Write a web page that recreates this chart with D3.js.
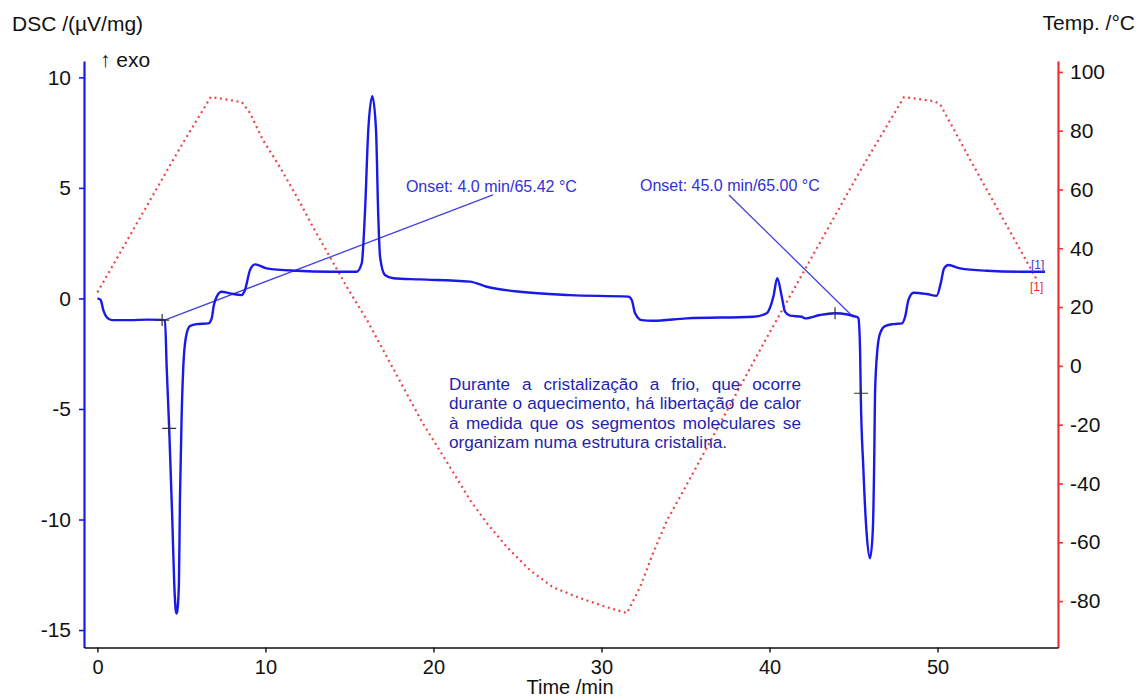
<!DOCTYPE html>
<html>
<head>
<meta charset="utf-8">
<script src="https://cdn.jsdelivr.net/npm/d3@7"></script>
<style>
  html, body { margin: 0; padding: 0; background: #fff; }
  svg { display: block; font-family: "Liberation Sans", Arial, sans-serif; }
</style>
</head>
<body>
<svg id="chart" width="1140" height="699"></svg>
<script>
// DSC heat-flow signal (µV/mg) against time (min)
const dscTime = [0, 0.19, 0.35, 0.55, 0.85, 1.93, 3.0, 3.85, 4.02, 4.12, 4.27, 4.45, 4.57, 4.66, 4.71, 4.76, 4.85, 4.91, 5.01, 5.11, 5.27, 5.51, 5.90, 6.60, 6.80, 6.93, 7.10, 7.39, 7.89, 8.58, 8.78, 9.08, 9.38, 10.07, 11.86, 13.84, 15.43, 15.73, 15.92, 16.12, 16.36, 16.58, 16.71, 16.82, 17.11, 17.61, 19.2, 22.17, 23.17, 25.15, 28.13, 31.6, 31.8, 32.0, 32.39, 33.07, 35.07, 39.04, 39.83, 40.23, 40.46, 40.73, 40.92, 41.22, 41.92, 42.11, 43.0, 43.9, 45.23, 45.29, 45.39, 45.43, 45.58, 45.78, 45.98, 46.14, 46.24, 46.28, 46.42, 46.58, 46.88, 47.38, 47.88, 48.07, 48.27, 48.57, 49.36, 49.95, 50.19, 50.39, 50.65, 51.34, 52.93, 54.91, 56.4];
const dscValue = [0, -0.07, -0.53, -0.85, -0.98, -0.98, -0.96, -0.97, -0.98, -3.09, -5.88, -9.87, -12.89, -14.1, -14.25, -14.1, -12.89, -9.12, -5.35, -3.09, -1.73, -1.25, -1.16, -1.13, -0.9, -0.3, 0.08, 0.3, 0.23, 0.15, 0.38, 1.28, 1.54, 1.36, 1.25, 1.21, 1.21, 1.59, 3.85, 7.62, 9.15, 7.62, 3.85, 1.89, 1.06, 0.91, 0.86, 0.76, 0.53, 0.30, 0.15, 0.08, -0.07, -0.67, -0.98, -1.01, -0.9, -0.83, -0.67, 0.08, 0.91, 0.08, -0.6, -0.78, -0.83, -0.9, -0.75, -0.67, -0.85, -0.9, -2.33, -4.29, -7.61, -10.62, -11.75, -10.62, -6.86, -4.29, -2.33, -1.58, -1.25, -1.16, -1.13, -0.83, -0.07, 0.26, 0.2, 0.12, 0.68, 1.36, 1.51, 1.36, 1.25, 1.21, 1.21];

// Sample temperature (°C) against time (min)
const tempTime = [0, 4.91, 6.75, 7.89, 8.6, 9.08, 9.85, 10.86, 11.88, 12.83, 13.84, 14.85, 16.04, 19.32, 20.8, 22.17, 23.18, 24.38, 25.74, 27.11, 28.72, 30.33, 31.52, 32.29, 33.07, 33.90, 34.67, 39.73, 45.39, 48.0, 49.85, 50.2, 52.1, 55.92];
const tempValue = [25, 74.1, 91.5, 90.4, 89.7, 86.0, 76.8, 67.6, 57.4, 47.2, 37.0, 26.8, 15.6, -19.1, -32.7, -45.6, -53.5, -61.7, -69.5, -75.3, -79.0, -82.1, -84.1, -75.3, -63.7, -52.5, -44.6, 8.5, 66.3, 91.4, 90.0, 88.5, 68.5, 29.2];

// Tangent onset evaluations
const onsetLabels = ["Onset: 4.0 min/65.42 °C", "Onset: 45.0 min/65.00 °C"];
const onsetTime = [4.0, 45.0];
const onsetDsc = [-0.98, -0.85];
const crossTime = [3.85, 4.27, 43.9, 45.45];
const crossDsc = [-0.98, -5.88, -0.67, -4.29];

// Axis ticks
const timeTicks = [0, 10, 20, 30, 40, 50];
const dscTicks = [10, 5, 0, -5, -10, -15];
const tempTicks = [100, 80, 60, 40, 20, 0, -20, -40, -60, -80];

// Explanatory note (Portuguese)
const noteLines = [
  "Durante a cristalização a frio, que ocorre",
  "durante o aquecimento, há libertação de calor",
  "à medida que os segmentos moleculares se",
  "organizam numa estrutura cristalina."
];

const svg = d3.select("#chart");
const plotLeft = 84, plotRight = 1058, plotTop = 61, plotBottom = 647.5;

const x = d3.scaleLinear().domain([-0.8, 57.17]).range([plotLeft, plotRight]);
const y = d3.scaleLinear().domain([-15.79, 10.74]).range([plotBottom, plotTop]);
const yT = d3.scaleLinear().domain([-95.8, 103.7]).range([plotBottom, plotTop]);

const blue = "#1a1ae8", red = "#ee3030";
const fmt = d => String(d);

// Temperature trace (dotted)
const tempData = tempTime.map((t, i) => [t, tempValue[i]]);
svg.append("path")
  .datum(tempData)
  .attr("fill", "none")
  .attr("stroke", "#f04545")
  .attr("stroke-width", 2.2)
  .attr("stroke-dasharray", "2 3.6")
  .attr("d", d3.line().x(d => x(d[0])).y(d => yT(d[1])));

// Onset tangent leader lines
const onsetEnds = [[23.54, 4.68], [37.59, 4.68]];
onsetEnds.forEach((e, i) => {
  svg.append("line")
    .attr("x1", x(onsetTime[i])).attr("y1", y(onsetDsc[i]))
    .attr("x2", x(e[0])).attr("y2", y(e[1]))
    .attr("stroke", "#4040e0").attr("stroke-width", 1.3);
});

// DSC trace
const dscData = dscTime.map((t, i) => [t, dscValue[i]]);
svg.append("path")
  .datum(dscData)
  .attr("fill", "none")
  .attr("stroke", blue)
  .attr("stroke-width", 2.4)
  .attr("stroke-linejoin", "round")
  .attr("d", d3.line().curve(d3.curveMonotoneX).x(d => x(d[0])).y(d => y(d[1])));

// Evaluation crosses
crossTime.forEach((t, i) => {
  const cx = x(t), cy = y(crossDsc[i]);
  svg.append("path")
    .attr("d", `M${cx - 7},${cy}H${cx + 7}M${cx},${cy - 6}V${cy + 6}`)
    .attr("stroke", "#333").attr("stroke-width", 1.2).attr("fill", "none");
});

// Onset labels
const labelPos = [[18.36, 4.81], [32.29, 4.86]];
labelPos.forEach((p, i) => {
  svg.append("text")
    .attr("x", x(p[0])).attr("y", y(p[1]))
    .attr("fill", "#3030dc").attr("font-size", 16)
    .text(onsetLabels[i]);
});

// Curve identifiers
svg.append("text").attr("x", 1031).attr("y", 269).attr("font-size", 12).attr("fill", "#3a3ad0").text("[1]");
svg.append("text").attr("x", 1030).attr("y", 291).attr("font-size", 12).attr("fill", red).text("[1]");

// Left DSC axis
const gL = svg.append("g").attr("transform", `translate(${plotLeft},0)`);
gL.call(d3.axisLeft(y).tickValues(d3.range(-15, 11)).tickSize(4).tickSizeOuter(0).tickFormat(""));
gL.call(d3.axisLeft(y).tickValues(dscTicks).tickSize(5).tickSizeOuter(0).tickPadding(8).tickFormat(fmt));
gL.selectAll("path.domain").attr("stroke", blue).attr("stroke-width", 2.2);
gL.selectAll("line").attr("stroke", blue).attr("stroke-width", 1.6);
gL.selectAll("text").attr("fill", "#111").attr("font-size", 21).attr("font-family", "Liberation Sans, Arial, sans-serif");

// Right temperature axis
const gR = svg.append("g").attr("transform", `translate(${plotRight},0)`);
gR.call(d3.axisRight(yT).tickValues(d3.range(-90, 101, 10)).tickSize(4).tickSizeOuter(0).tickFormat(""));
gR.call(d3.axisRight(yT).tickValues(tempTicks).tickSize(5).tickSizeOuter(0).tickPadding(7).tickFormat(fmt));
gR.selectAll("path.domain").attr("stroke", red).attr("stroke-width", 2.2);
gR.selectAll("line").attr("stroke", red).attr("stroke-width", 1.6);
gR.selectAll("text").attr("fill", "#111").attr("font-size", 21).attr("font-family", "Liberation Sans, Arial, sans-serif");

// Bottom time axis
const gB = svg.append("g").attr("transform", `translate(0,${plotBottom})`);
gB.call(d3.axisBottom(x).tickValues(d3.range(0, 57, 2)).tickSize(4).tickSizeOuter(0).tickFormat(""));
gB.call(d3.axisBottom(x).tickValues(timeTicks).tickSize(5).tickSizeOuter(0).tickPadding(7).tickFormat(fmt));
gB.selectAll("path.domain").attr("stroke", "#111").attr("stroke-width", 1.6);
gB.selectAll("line").attr("stroke", "#111").attr("stroke-width", 1.4);
gB.selectAll("text").attr("fill", "#111").attr("font-size", 20).attr("font-family", "Liberation Sans, Arial, sans-serif");

// Axis titles
svg.append("text").attr("x", 12).attr("y", 31).attr("font-size", 21).attr("fill", "#111").text("DSC /(µV/mg)");
svg.append("text").attr("x", 1135).attr("y", 30).attr("text-anchor", "end").attr("font-size", 21).attr("fill", "#111").text("Temp. /°C");
svg.append("text").attr("x", 100).attr("y", 67).attr("font-size", 21).attr("fill", "#111").text("↑ exo");
svg.append("text").attr("x", 570).attr("y", 694).attr("text-anchor", "middle").attr("font-size", 20).attr("fill", "#111").text("Time /min");

// Justified note block
const noteG = svg.append("g").attr("font-size", 17.2).attr("fill", "#1f1fb0");
const nx0 = 449, nx1 = 801, nyb = 390, nlh = 19.3;
noteLines.forEach((line, li) => {
  const words = line.split(" ");
  const yb = nyb + li * nlh;
  const nodes = words.map(w => noteG.append("text").attr("y", yb).text(w));
  const widths = nodes.map(n => n.node().getComputedTextLength());
  const last = li === noteLines.length - 1;
  const total = d3.sum(widths);
  const gap = last ? 4.8 : (nx1 - nx0 - total) / (words.length - 1);
  let cx = nx0;
  nodes.forEach((n, i) => { n.attr("x", cx); cx += widths[i] + gap; });
});
</script>
</body>
</html>
